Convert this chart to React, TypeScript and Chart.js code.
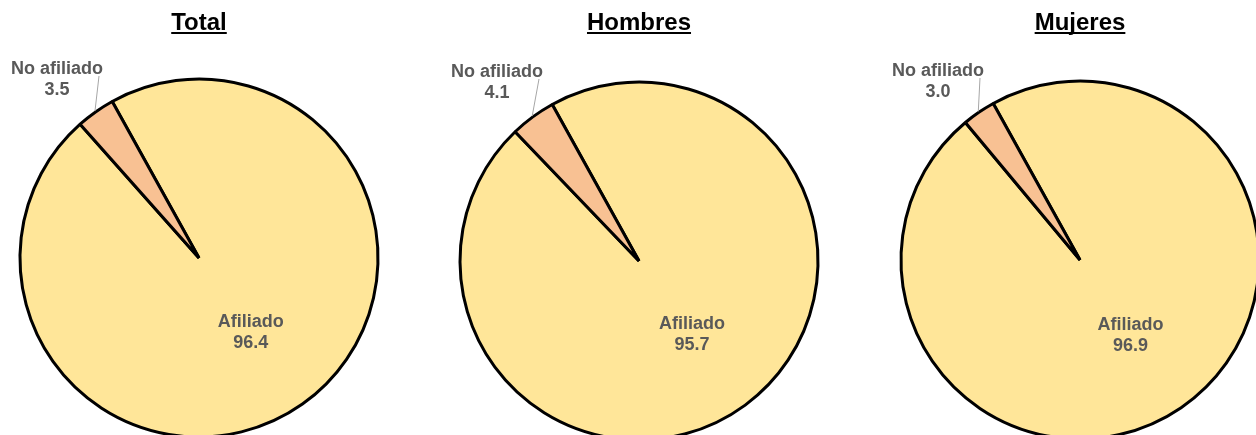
import React, { useEffect, useRef } from "react";
import { Chart, registerables } from "chart.js";

Chart.register(...registerables);

// ---- data ----
const titles = ["Total", "Hombres", "Mujeres"];
const categories = ["Afiliado", "No afiliado"];
const afiliado = [96.4, 95.7, 96.9];
const noAfiliado = [3.5, 4.1, 3.0];

// ---- style / layout ----
const sliceColors = ["#FFE699", "#F8C193"];
const centers = [
  { cx: 199, cy: 258 },
  { cx: 639, cy: 261 },
  { cx: 1080, cy: 260 },
];
const CW = 440;
const CH = 540;
const FONT = '"Liberation Sans", Arial, Helvetica, sans-serif';

const pieLabelsPlugin = {
  id: "pieLabels",
  afterDatasetsDraw(chart: any, _args: any, opts: any) {
    const ctx = chart.ctx;
    const meta = chart.getDatasetMeta(0);
    const ds = chart.data.datasets[0];
    const labels = chart.data.labels;
    meta.data.forEach((el: any, i: number) => {
      const { x, y, startAngle, endAngle, outerRadius } = el.getProps(
        ["x", "y", "startAngle", "endAngle", "outerRadius"],
        true
      );
      const mid = (startAngle + endAngle) / 2;
      const val = Number(ds.data[i]).toFixed(1);
      ctx.save();
      ctx.fillStyle = "#595959";
      ctx.font = "bold 18px " + FONT;
      ctx.textAlign = "center";
      ctx.textBaseline = "middle";
      if (i === 0) {
        const r = outerRadius * 0.5;
        const lx = x + Math.cos(mid) * r;
        const ly = y + Math.sin(mid) * r;
        ctx.fillText(labels[i], lx, ly - 9);
        ctx.fillText(val, lx, ly + 12);
      } else {
        const lx = x - 142;
        const ly = y - 180;
        ctx.fillText(labels[i], lx, ly - 9);
        ctx.fillText(val, lx, ly + 12);
        ctx.strokeStyle = "#A6A6A6";
        ctx.lineWidth = 1;
        ctx.beginPath();
        ctx.moveTo(x + Math.cos(mid) * (outerRadius + 1), y + Math.sin(mid) * (outerRadius + 1));
        ctx.lineTo(x - 100, y - 182);
        ctx.stroke();
      }
      ctx.restore();
    });
    // title with underline
    if (opts && opts.title) {
      const x = meta.data[0].x;
      ctx.save();
      ctx.fillStyle = "#000000";
      ctx.font = "bold 24px " + FONT;
      ctx.textAlign = "center";
      ctx.textBaseline = "alphabetic";
      ctx.fillText(opts.title, x, opts.baseline);
      const w = ctx.measureText(opts.title).width;
      ctx.fillRect(x - w / 2, opts.baseline + 2, w, 2);
      ctx.restore();
    }
  },
};

function Pie({ index }: { index: number }) {
  const ref = useRef<HTMLCanvasElement | null>(null);
  const { cx, cy } = centers[index];
  const left = cx - CW / 2;
  const top = cy - CH / 2;
  useEffect(() => {
    if (!ref.current) return;
    const chart = new Chart(ref.current, {
      type: "pie",
      data: {
        labels: categories,
        datasets: [
          {
            data: [afiliado[index], noAfiliado[index]],
            backgroundColor: sliceColors,
            borderColor: "#000000",
            borderWidth: 3,
            rotation: -29,
            radius: 179,
          } as any,
        ],
      },
      options: {
        responsive: false,
        animation: false,
        events: [],
        layout: { padding: 0 },
        plugins: {
          legend: { display: false },
          title: { display: false },
          tooltip: { enabled: false },
          pieLabels: { title: titles[index], baseline: 30 - top },
        } as any,
      },
      plugins: [pieLabelsPlugin],
    });
    return () => chart.destroy();
  }, [index, top]);
  return (
    <canvas
      ref={ref}
      width={CW}
      height={CH}
      style={{ position: "absolute", left, top, width: CW, height: CH }}
    />
  );
}

export default function App() {
  return (
    <div
      style={{
        position: "fixed",
        left: 0,
        top: 0,
        width: 1256,
        height: 435,
        overflow: "hidden",
        background: "#ffffff",
      }}
    >
      {titles.map((_, i) => (
        <Pie key={i} index={i} />
      ))}
    </div>
  );
}
